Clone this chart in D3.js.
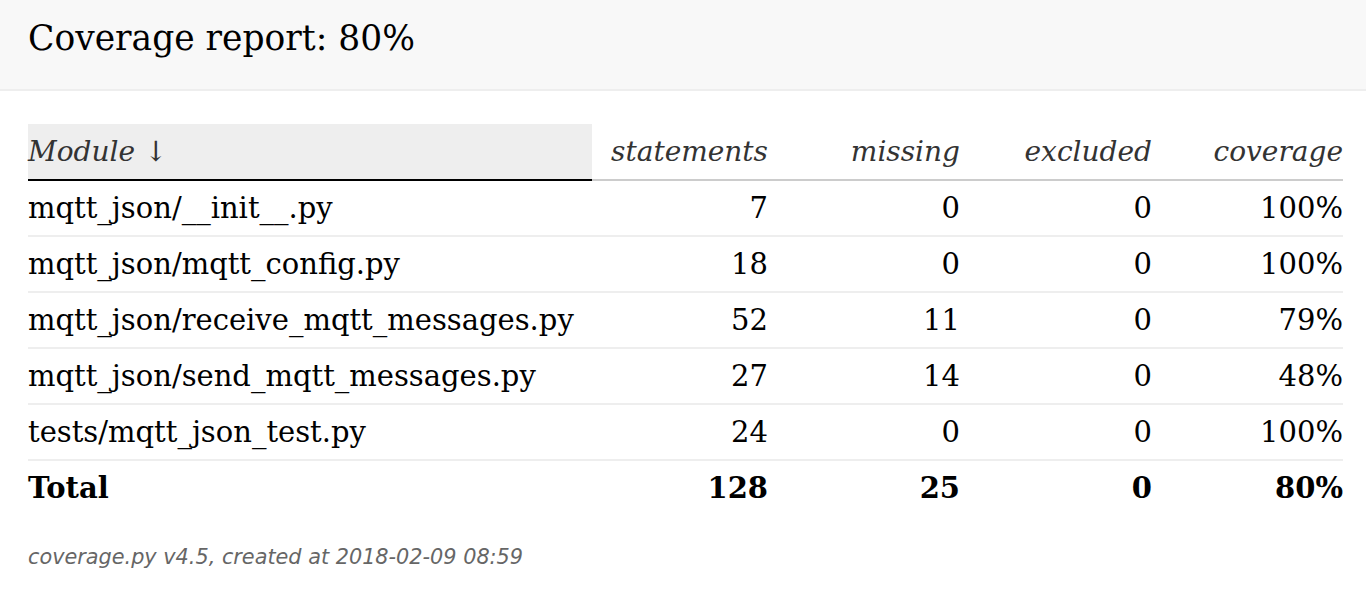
<!DOCTYPE html>
<html>
<head>
<meta charset="utf-8">
<script src="https://cdn.jsdelivr.net/npm/d3@7"></script>
<style>
  body { margin: 0; background: #fff; }
  svg { display: block; }
</style>
</head>
<body>
<div id="chart"></div>
<script>
// report data
var title = 'Coverage report: 80%';
var columns = ['Module \u2193', 'statements', 'missing', 'excluded', 'coverage'];
var modules = ['mqtt_json/__init__.py', 'mqtt_json/mqtt_config.py', 'mqtt_json/receive_mqtt_messages.py',
               'mqtt_json/send_mqtt_messages.py', 'tests/mqtt_json_test.py'];
var statements = [7, 18, 52, 27, 24];
var missing = [0, 0, 11, 14, 0];
var excluded = [0, 0, 0, 0, 0];
var coverage = ['100%', '100%', '79%', '48%', '100%'];
var totals = ['Total', 128, 25, 0, '80%'];
var footer = 'coverage.py v4.5, created at 2018-02-09 08:59';

var width = 1366, height = 594,
    left = 28, right = 1343,
    serif = '"DejaVu Serif", Georgia, serif',
    sans = '"DejaVu Sans", Verdana, sans-serif';

var svg = d3.select('#chart')
    .append('svg')
    .attr('width', width)
    .attr('height', height);

// top banner
svg.append('rect').attr('x', 0).attr('y', 0).attr('width', width).attr('height', 89).attr('fill', '#f8f8f8');
svg.append('rect').attr('x', 0).attr('y', 89).attr('width', width).attr('height', 2).attr('fill', '#eeeeee');
svg.append('text')
    .attr('x', left).attr('y', 50)
    .attr('font-family', serif).attr('font-size', 34.5)
    .attr('fill', '#000')
    .text(title);

// rows: header, modules, total
var rowKeys = ['head'].concat(modules.map(function(d, i) { return 'r' + i; })).concat(['total']);
var y = d3.scaleBand().domain(rowKeys).range([124, 124 + 56 * rowKeys.length]);

// column right edges (module column is left aligned)
var colRight = d3.scaleOrdinal().domain(columns).range([left, 768, 960, 1152, right]);

var rows = modules.map(function(m, i) {
    return [m, statements[i], missing[i], excluded[i], coverage[i]];
});

// header
svg.append('rect')
    .attr('x', left).attr('y', y('head'))
    .attr('width', 592 - left).attr('height', y.bandwidth() - 1)
    .attr('fill', '#eeeeee');
svg.append('rect')
    .attr('x', 592).attr('y', y('head') + y.bandwidth() - 1)
    .attr('width', right - 592).attr('height', 2).attr('fill', '#cccccc');
svg.append('rect')
    .attr('x', left).attr('y', y('head') + y.bandwidth() - 1)
    .attr('width', 592 - left).attr('height', 2).attr('fill', '#000');

svg.append('g').selectAll('text')
    .data(columns)
    .enter()
    .append('text')
    .attr('x', function(d) { return colRight(d); })
    .attr('y', y('head') + 37)
    .attr('text-anchor', function(d, i) { return i === 0 ? 'start' : 'end'; })
    .attr('font-family', serif).attr('font-style', 'italic').attr('font-size', 28)
    .attr('fill', '#333')
    .text(function(d) { return d; });

// body rows
var body = svg.append('g').selectAll('g')
    .data(rows)
    .enter()
    .append('g')
    .attr('transform', function(d, i) { return 'translate(0,' + y('r' + i) + ')'; });

body.append('rect')
    .attr('x', left).attr('y', y.bandwidth() - 1)
    .attr('width', right - left).attr('height', 2)
    .attr('fill', '#eeeeee');

body.selectAll('text')
    .data(function(d) { return d; })
    .enter()
    .append('text')
    .attr('x', function(d, i) { return colRight(columns[i]); })
    .attr('y', 38)
    .attr('text-anchor', function(d, i) { return i === 0 ? 'start' : 'end'; })
    .attr('font-family', serif).attr('font-size', 29)
    .attr('fill', '#000')
    .text(function(d) { return d; });

// total row
svg.append('g')
    .attr('transform', 'translate(0,' + y('total') + ')')
    .selectAll('text')
    .data(totals)
    .enter()
    .append('text')
    .attr('x', function(d, i) { return colRight(columns[i]); })
    .attr('y', 38)
    .attr('text-anchor', function(d, i) { return i === 0 ? 'start' : 'end'; })
    .attr('font-family', serif).attr('font-size', 29).attr('font-weight', 'bold')
    .attr('fill', '#000')
    .text(function(d) { return d; });

// footer
svg.append('text')
    .attr('x', left).attr('y', 564)
    .attr('font-family', sans).attr('font-style', 'italic').attr('font-size', 20.8)
    .attr('fill', '#666')
    .text(footer);
</script>
</body>
</html>
